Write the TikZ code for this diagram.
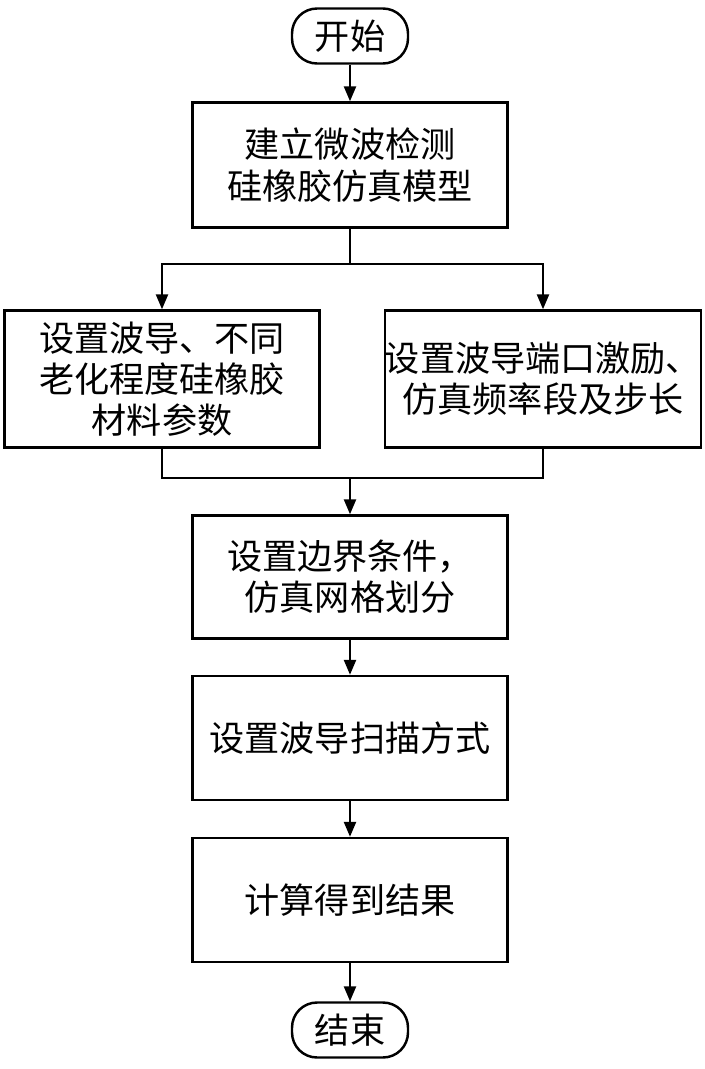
\documentclass[tikz,border=0pt]{standalone}
\usepackage{fontspec}
\newfontfamily\cjk{Noto Sans CJK SC}
\usetikzlibrary{arrows.meta}

\begin{document}
\begin{tikzpicture}[x=0.02cm, y=-0.02cm, line width=1.4pt,
  every node/.style={font=\cjk\fontsize{20}{23.5}\selectfont, align=center, inner sep=0pt},
  procbox/.style={draw, minimum width=6.3cm},
  termbox/.style={draw, rounded corners=0.5cm, minimum width=2.32cm, minimum height=1.1cm},
  flow/.style={-{Triangle[length=0.3cm,width=0.24cm]}}]
  \useasboundingbox (0,0) rectangle (704,1069);

  % start / end
  \node[termbox] (start) at (350,36) {开始};
  \node[termbox] (finish) at (350,1030) {结束};

  % steps
  \node[procbox, minimum height=2.5cm] (model) at (350,165) {建立微波检测\\硅橡胶仿真模型};
  \node[procbox, minimum height=2.74cm] (material) at (162,379) {设置波导、不同\\老化程度硅橡胶\\材料参数};
  \node[procbox, minimum height=2.74cm] (port) at (543,379) {设置波导端口激励、\\仿真频率段及步长};
  \node[procbox, minimum height=2.46cm] (boundary) at (350,577) {设置边界条件，\\仿真网格划分};
  \node[procbox, minimum height=2.48cm] (scan) at (350,738) {设置波导扫描方式};
  \node[procbox, minimum height=2.48cm] (result) at (350,900) {计算得到结果};

  % branch and merge points
  \coordinate (split) at (350,264);
  \coordinate (merge) at (350,478);

  % connectors
  \draw[flow] (start) -- (model);
  \draw (model) -- (split);
  \draw[flow] (split) -| (material);
  \draw[flow] (split) -| (port);
  \draw (material) |- (merge);
  \draw (port) |- (merge);
  \draw[flow] (merge) -- (boundary);
  \draw[flow] (boundary) -- (scan);
  \draw[flow] (scan) -- (result);
  \draw[flow] (result) -- (finish);
\end{tikzpicture}
\end{document}
